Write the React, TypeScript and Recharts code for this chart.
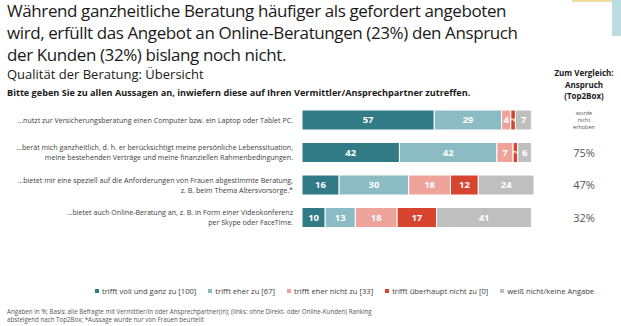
import React from 'react'
import { Bar, BarChart, LabelList, XAxis, YAxis } from 'recharts'

const categories = [
    '...nutzt zur Versicherungsberatung einen Computer bzw. ein Laptop oder Tablet PC.',
    '...berät mich ganzheitlich, d. h. er berücksichtigt meine persönliche Lebenssituation,|meine bestehenden Verträge und meine finanziellen Rahmenbedingungen.',
    '...bietet mir eine speziell auf die Anforderungen von Frauen abgestimmte Beratung,|z. B. beim Thema Altersvorsorge.*',
    '...bietet auch Online-Beratung an, z. B. in Form einer Videokonferenz|per Skype oder FaceTime.',
]
const vollUndGanz = [57, 42, 16, 10]
const eherZu = [29, 42, 30, 13]
const eherNicht = [4, 7, 18, 18]
const ueberhauptNicht = [2, 2, 12, 17]
const weissNicht = [7, 6, 24, 41]
const anspruch = ['wurde|nicht|erhoben', '75%', '47%', '32%']

const series = [
    { key: 'v1', name: 'trifft voll und ganz zu [100]', color: '#317b87' },
    { key: 'v2', name: 'trifft eher zu [67]', color: '#8bbbc3' },
    { key: 'v3', name: 'trifft eher nicht zu [33]', color: '#eea49b' },
    { key: 'v4', name: 'trifft überhaupt nicht zu [0]', color: '#d8452f' },
    { key: 'v5', name: 'weiß nicht/keine Angabe', color: '#bfbfbf' },
]

const data = categories.map((name, i) => ({
    name,
    right: anspruch[i],
    v1: vollUndGanz[i],
    v2: eherZu[i],
    v3: eherNicht[i],
    v4: ueberhauptNicht[i],
    v5: weissNicht[i],
}))

const FONT = '"Open Sans", "Noto Sans", sans-serif'

const LeftTick = (props: any) => {
    const { x, y, payload } = props
    const lines = String(payload.value).split('|')
    const lh = 10
    const start = y - ((lines.length - 1) * lh) / 2
    return (
        <text x={x - 1} y={start} textAnchor='end' fontSize={7.1} fill='#404040' fontFamily={FONT}>
            {lines.map((l, i) => (
                <tspan key={i} x={x - 1} y={start + i * lh} dy='0.35em'>{l}</tspan>
            ))}
        </text>
    )
}

const RightTick = (props: any) => {
    const { y, index } = props
    const value = anspruch[index]
    const cx = 584
    if (value.includes('|')) {
        const lines = value.split('|')
        return (
            <text x={cx} y={y} textAnchor='middle' fontSize={5.5} fill='#555' fontFamily={FONT}>
                {lines.map((l, i) => (
                    <tspan key={i} x={cx} y={y - 7 + i * 7} dy='0.35em'>{l}</tspan>
                ))}
            </text>
        )
    }
    return (
        <text x={cx} y={y} dy='0.35em' textAnchor='middle' fontSize={11} fill='#555' fontFamily={FONT}>
            {value}
        </text>
    )
}

const SegLabel = (props: any) => {
    const { x, y, width, height, value } = props
    const cx = x + width / 2
    const cy = y + height / 2
    if (value < 3) {
        return (
            <text x={cx} y={cy} textAnchor='middle' dy='0.35em' fontSize={6.5} fontWeight={700} fill='#fff'
                fontFamily={FONT} transform={`rotate(-90 ${cx} ${cy})`}>
                {value}
            </text>
        )
    }
    return (
        <text x={cx} y={cy} textAnchor='middle' dy='0.35em' fontSize={9.5} fontWeight={700} fill='#fff' fontFamily={FONT}>
            {value}
        </text>
    )
}

const App = () => {
    return (
        <div style={{ position: 'fixed', left: 0, top: 0, width: 621, height: 326, background: '#fff', overflow: 'hidden', fontFamily: FONT }}>
            <div style={{ position: 'absolute', right: 0, top: 0, width: 9, height: 36, background: '#bcdde0' }} />
            <div style={{ position: 'absolute', right: 9, top: 0, width: 40, height: 2, background: '#f0dca0' }} />
            <div style={{ position: 'absolute', left: 7, top: 0, fontSize: 17, letterSpacing: -0.4, lineHeight: '22px', color: '#1a1a1a', whiteSpace: 'nowrap' }}>
                Während ganzheitliche Beratung häufiger als gefordert angeboten<br />
                wird, erfüllt das Angebot an Online-Beratungen (23%) den Anspruch<br />
                der Kunden (32%) bislang noch nicht.
            </div>
            <div style={{ position: 'absolute', left: 7, top: 65, fontSize: 13, color: '#1a1a1a', whiteSpace: 'nowrap' }}>
                Qualität der Beratung: Übersicht
            </div>
            <div style={{ position: 'absolute', left: 7, top: 86, fontSize: 9.15, fontWeight: 700, color: '#1a1a1a', whiteSpace: 'nowrap' }}>
                Bitte geben Sie zu allen Aussagen an, inwiefern diese auf Ihren Vermittler/Ansprechpartner zutreffen.
            </div>
            <div style={{ position: 'absolute', left: 544, top: 67, width: 80, textAlign: 'center', fontSize: 8, fontWeight: 700, lineHeight: '11.5px', color: '#1a1a1a' }}>
                Zum Vergleich:<br />Anspruch<br />(Top2Box)
            </div>
            <div style={{ position: 'absolute', left: 0, top: 0 }}>
                <BarChart
                    width={621}
                    height={326}
                    layout='vertical'
                    data={data}
                    barSize={20}
                    margin={{ top: 104, right: 0, left: 0, bottom: 92 }}
                >
                    <XAxis type='number' domain={[0, 100]} hide />
                    <YAxis yAxisId='left' type='category' dataKey='name' width={302} axisLine={false} tickLine={false} tick={<LeftTick />} interval={0} />
                    <YAxis yAxisId='right' orientation='right' type='category' dataKey='right' width={87} axisLine={false} tickLine={false} tick={<RightTick />} interval={0} />
                    {series.map((s) => (
                        <Bar key={s.key} yAxisId='left' dataKey={s.key} name={s.name} stackId='a' fill={s.color} stroke='#fff' strokeWidth={1} isAnimationActive={false}>
                            <LabelList dataKey={s.key} content={<SegLabel />} />
                        </Bar>
                    ))}
                </BarChart>
            </div>
            <div style={{ position: 'absolute', left: 95, top: 286, display: 'flex', gap: 12, fontSize: 7.6, color: '#404040', whiteSpace: 'nowrap' }}>
                {series.map((s) => (
                    <div key={s.key} style={{ display: 'flex', alignItems: 'center', gap: 3 }}>
                        <span style={{ width: 4, height: 4, background: s.color, display: 'inline-block' }} />
                        <span>{s.name}</span>
                    </div>
                ))}
            </div>
            <div style={{ position: 'absolute', left: 7, top: 308, fontSize: 6.2, lineHeight: '8px', color: '#555', whiteSpace: 'nowrap' }}>
                Angaben in %; Basis: alle Befragte mit Vermittler/in oder Ansprechpartner(in); (links: ohne Direkt- oder Online-Kunden) Ranking<br />
                absteigend nach Top2Box; *Aussage wurde nur von Frauen beurteilt
            </div>
        </div>
    )
}

export default App
